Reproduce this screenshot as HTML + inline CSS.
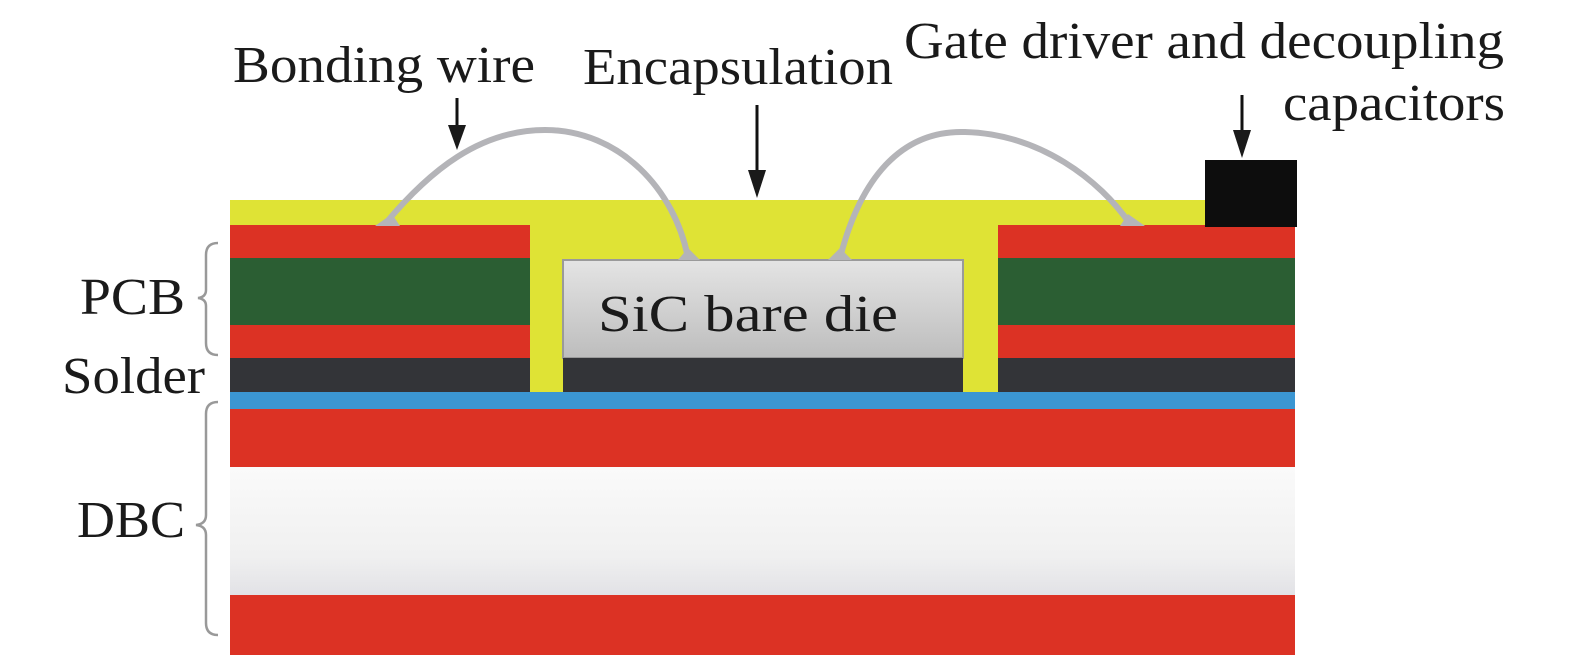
<!DOCTYPE html>
<html><head><style>body{margin:0;background:#fff}svg{display:block}text{font-family:"Liberation Serif","Times New Roman",serif}</style></head>
<body>
<svg width="1575" height="669" viewBox="0 0 1575 669" xmlns="http://www.w3.org/2000/svg" fill="#1a1a1a">
<defs>
<linearGradient id="g" x1="0" y1="0" x2="0" y2="1"><stop offset="0" stop-color="#e4e4e4"/><stop offset="1" stop-color="#bdbdbd"/></linearGradient>
<linearGradient id="w" x1="0" y1="0" x2="0" y2="1"><stop offset="0" stop-color="#fafafa"/><stop offset="0.7" stop-color="#f0f0f0"/><stop offset="1" stop-color="#e2e2e6"/></linearGradient>
</defs>
<rect x="230" y="200" width="975" height="192" fill="#dfe335"/>
<rect x="230" y="225" width="300" height="33" fill="#dc3224"/>
<rect x="230" y="258" width="300" height="67" fill="#2b5e33"/>
<rect x="230" y="325" width="300" height="33" fill="#dc3224"/>
<rect x="230" y="358" width="300" height="34" fill="#333438"/>
<rect x="563" y="260" width="400" height="98" fill="url(#g)" stroke="#9a9a9a" stroke-width="2"/>
<rect x="563" y="358" width="400" height="34" fill="#333438"/>
<rect x="998" y="225" width="297" height="33" fill="#dc3224"/>
<rect x="998" y="258" width="297" height="67" fill="#2b5e33"/>
<rect x="998" y="325" width="297" height="33" fill="#dc3224"/>
<rect x="998" y="358" width="297" height="34" fill="#333438"/>
<rect x="1205" y="160" width="92" height="67" fill="#0d0d0d"/>
<rect x="230" y="392" width="1065" height="17" fill="#3b96d2"/>
<rect x="230" y="409" width="1065" height="58" fill="#dc3224"/>
<rect x="230" y="467" width="1065" height="128" fill="url(#w)"/>
<rect x="230" y="595" width="1065" height="60" fill="#dc3224"/>
<g fill="none" stroke="#b4b4b8" stroke-width="6">
<path d="M385 224 C430 170 480 130 545 130 C620 130 675 190 688 258"/>
<path d="M840 258 C860 180 900 130 965 132 C1040 134 1100 180 1130 224"/>
</g>
<g fill="#b4b4b8"><polygon points="375,226 400,226 392,214"/><polygon points="678,260 700,260 688,248"/><polygon points="828,260 852,260 840,248"/><polygon points="1120,226 1145,226 1128,214"/></g>
<g stroke="#111" stroke-width="3">
<line x1="457" y1="98" x2="457" y2="130"/>
<line x1="757" y1="105" x2="757" y2="175"/>
<line x1="1242" y1="95" x2="1242" y2="135"/>
</g>
<polygon points="448,125 466,125 457,150"/>
<polygon points="748,170 766,170 757,198"/>
<polygon points="1233,130 1251,130 1242,158"/>
<g fill="none" stroke="#999" stroke-width="2.5">
<path d="M218 243 Q206 243 206 255 L206 290 Q206 297 198 298 Q206 299 206 306 L206 343 Q206 355 218 355"/>
<path d="M218 402 Q206 402 206 414 L206 515 Q206 524 196 525 Q206 526 206 535 L206 623 Q206 635 218 635"/>
</g>
<g font-size="52">
<text x="233" y="82" textLength="302" lengthAdjust="spacingAndGlyphs">Bonding wire</text>
<text x="583" y="84" textLength="310" lengthAdjust="spacingAndGlyphs">Encapsulation</text>
<text x="904" y="58" textLength="600" lengthAdjust="spacingAndGlyphs">Gate driver and decoupling</text>
<text x="1283" y="120" textLength="222" lengthAdjust="spacingAndGlyphs">capacitors</text>
<text x="80" y="314" textLength="105" lengthAdjust="spacingAndGlyphs">PCB</text>
<text x="62" y="393" textLength="143" lengthAdjust="spacingAndGlyphs">Solder</text>
<text x="77" y="537" textLength="108" lengthAdjust="spacingAndGlyphs">DBC</text>
<text x="598" y="331" textLength="300" lengthAdjust="spacingAndGlyphs">SiC bare die</text>
</g>
</svg>
</body></html>
